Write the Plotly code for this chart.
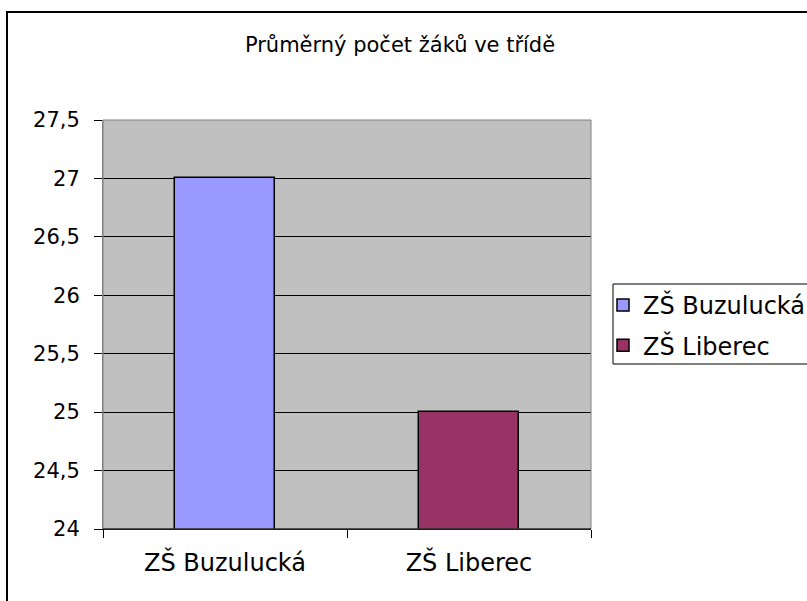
import plotly.graph_objects as go

categories = ["ZŠ Buzulucká", "ZŠ Liberec"]
series_names = ["ZŠ Buzulucká", "ZŠ Liberec"]
values = [27, 25]
colors = ["#9999FF", "#993366"]
title_text = "Průměrný počet žáků ve třídě"
y_ticks = [24, 24.5, 25, 25.5, 26, 26.5, 27, 27.5]

FONT = "DejaVu Sans, Liberation Sans, Arial, sans-serif"

fig = go.Figure()
for i, (name, cat, val, col) in enumerate(zip(series_names, categories, values, colors)):
    fig.add_trace(go.Bar(
        x=[cat], y=[val], name=name, width=0.41,
        marker=dict(color=col, line=dict(color="black", width=1.5)),
        legendgroup=f"g{i}",
    ))

W, H = 807, 601
L, R, T, B = 103, 216, 120, 72
pw, ph = W - L - R, H - T - B

def px_x(x):
    return (x - L) / pw

def px_y(y):
    return (H - B - y) / ph

fig.update_layout(
    width=W, height=H,
    margin=dict(l=L, r=R, t=T, b=B, autoexpand=False),
    paper_bgcolor="white",
    plot_bgcolor="#C0C0C0",
    separators=", ",
    barmode="overlay",
    bargap=0,
    font=dict(family=FONT, color="black", size=21),
    title=dict(text=title_text, x=400 / W, xref="container", xanchor="center",
               y=1 - 45 / H, yref="container", yanchor="middle",
               font=dict(family=FONT, size=21, color="black")),
    showlegend=True,
    legend=dict(
        x=px_x(603), y=px_y(283), xanchor="left", yanchor="top",
        xref="paper", yref="paper",
        bgcolor="rgba(0,0,0,0)", borderwidth=0,
        font=dict(family=FONT, size=24, color="black"),
        tracegroupgap=6, traceorder="grouped",
        itemwidth=30,
    ),
    xaxis=dict(
        type="category", range=[-0.5, 1.5],
        showgrid=False, showline=True, linecolor="black", linewidth=1,
        ticks="outside", tickson="boundaries", ticklen=8, tickcolor="black",
        tickfont=dict(family=FONT, size=24, color="black"),
        ticklabelstandoff=12,
    ),
    yaxis=dict(
        range=[24, 27.5], tickvals=y_ticks,
        showgrid=True, gridcolor="black", gridwidth=1,
        showline=True, linecolor="#808080", linewidth=1,
        ticks="outside", ticklen=8, tickcolor="black",
        tickfont=dict(family=FONT, size=21, color="black"),
        ticklabelstandoff=10,
        zeroline=False,
    ),
    shapes=[
        dict(type="rect", xref="paper", yref="paper", x0=0, x1=1, y0=0, y1=1,
             line=dict(color="#808080", width=1), layer="above"),
        dict(type="line", xref="paper", yref="paper", x0=0, x1=1, y0=0, y1=0,
             line=dict(color="black", width=1), layer="above"),
        dict(type="rect", xref="paper", yref="paper",
             x0=px_x(7), x1=px_x(900), y0=px_y(700), y1=px_y(12),
             line=dict(color="black", width=2), layer="above"),
        dict(type="rect", xref="paper", yref="paper",
             x0=px_x(613), x1=px_x(900), y0=px_y(364), y1=px_y(284),
             line=dict(color="black", width=1), fillcolor="white", layer="below"),
    ],
)

fig.write_html("out.html", config={"displayModeBar": False},
               post_script="document.body.style.margin='0';document.body.style.overflow='hidden';")
